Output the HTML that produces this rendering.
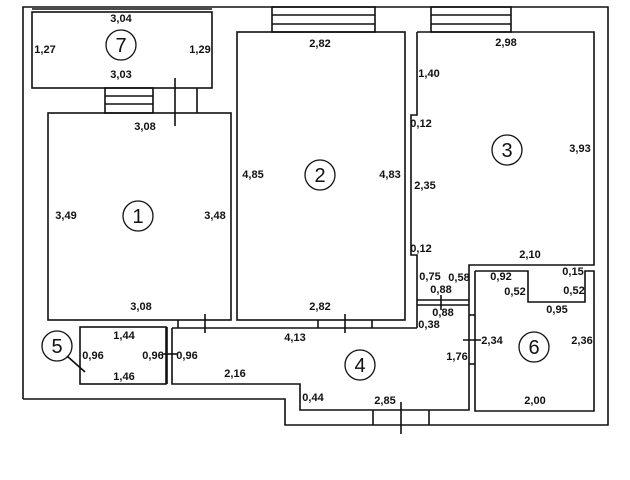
<!DOCTYPE html>
<html><head><style>body{margin:0;background:#fff}svg{display:block}text{font-family:"Liberation Sans Narrow","Liberation Sans",sans-serif;font-size:11px;font-weight:bold;fill:#111;text-anchor:middle;dominant-baseline:central}.c{font-size:20px;font-weight:normal}</style></head><body>
<svg width="630" height="480" viewBox="0 0 630 480" fill="none" stroke="#111" stroke-width="1.6">
<polyline points="23,399 23,7 608,7 608,425 285,425 285,399 23,399"/>
<!-- room 7 -->
<line x1="32" y1="9" x2="212" y2="9"/>
<rect x="32" y="12" width="180" height="76"/>
<rect x="105" y="88" width="48" height="25"/><line x1="105" y1="96" x2="153" y2="96"/><line x1="105" y1="104" x2="153" y2="104"/>
<line x1="197" y1="88" x2="197" y2="113"/><line x1="175" y1="78" x2="175" y2="126"/>
<!-- room 1 -->
<rect x="48" y="113" width="183" height="207"/>
<!-- room 2 -->
<rect x="237" y="32" width="168" height="288"/>
<rect x="272" y="7" width="103" height="25"/><line x1="272" y1="15" x2="375" y2="15"/><line x1="272" y1="24" x2="375" y2="24"/>
<!-- room 3 -->
<rect x="431" y="7" width="80" height="25"/><line x1="431" y1="15" x2="511" y2="15"/><line x1="431" y1="24" x2="511" y2="24"/>
<polyline points="417,32 594,32 594,265 469,265 469,305"/>
<polyline points="417,32 417,115 411,115 411,255 417,255 417,328"/>
<line x1="417" y1="300" x2="469" y2="300"/><line x1="417" y1="305" x2="469" y2="305"/>
<line x1="441" y1="295" x2="441" y2="310"/>
<!-- room 4 -->
<polyline points="172,328 417,328"/>
<polyline points="469,305 469,410 300,410 300,384 172,384 172,328"/>
<line x1="178" y1="320" x2="178" y2="328"/><line x1="205" y1="314" x2="205" y2="333"/>
<line x1="318" y1="320" x2="318" y2="328"/><line x1="345" y1="314" x2="345" y2="333"/><line x1="372" y1="320" x2="372" y2="328"/>
<line x1="373" y1="410" x2="373" y2="425"/><line x1="429" y1="410" x2="429" y2="425"/><line x1="401" y1="402" x2="401" y2="434"/>
<!-- room 5 -->
<rect x="80" y="327" width="86" height="57"/>
<line x1="167" y1="327" x2="167" y2="384"/>
<line x1="162" y1="354" x2="178" y2="354"/>
<line x1="67" y1="356" x2="85" y2="372"/>
<!-- room 6 -->
<polyline points="475,271 528,271 528,302 585,302 585,271 594,271 594,411 475,411 475,271"/>
<line x1="469" y1="315" x2="475" y2="315"/><line x1="469" y1="364" x2="475" y2="364"/>
<line x1="463" y1="340" x2="481" y2="340"/>
<g stroke-width="1.3">
<circle cx="121" cy="45" r="15"/><circle cx="138" cy="216" r="15"/><circle cx="320" cy="175" r="15"/>
<circle cx="507" cy="150" r="15"/><circle cx="360" cy="365" r="15"/><circle cx="534" cy="347" r="15"/><circle cx="57" cy="346" r="15"/>
</g>
<g stroke="none">
<text class="c" x="121" y="46">7</text><text class="c" x="138" y="217">1</text><text class="c" x="320" y="176">2</text>
<text class="c" x="507" y="151">3</text><text class="c" x="360" y="366">4</text><text class="c" x="534" y="348">6</text><text class="c" x="57" y="347">5</text>
<text x="121" y="19">3,04</text><text x="45" y="50">1,27</text><text x="200" y="50">1,29</text><text x="121" y="75">3,03</text>
<text x="145" y="127">3,08</text><text x="66" y="216">3,49</text><text x="215" y="216">3,48</text><text x="141" y="307">3,08</text>
<text x="320" y="44">2,82</text><text x="253" y="175">4,85</text><text x="390" y="175">4,83</text><text x="320" y="307">2,82</text>
<text x="506" y="43">2,98</text><text x="429" y="74">1,40</text><text x="421" y="124">0,12</text><text x="580" y="149">3,93</text>
<text x="425" y="186">2,35</text><text x="421" y="249">0,12</text><text x="530" y="255">2,10</text>
<text x="430" y="277">0,75</text><text x="459" y="278">0,58</text><text x="441" y="290">0,88</text><text x="443" y="313">0,88</text>
<text x="429" y="325">0,38</text><text x="501" y="277">0,92</text><text x="515" y="292">0,52</text><text x="573" y="272">0,15</text>
<text x="574" y="291">0,52</text><text x="557" y="310">0,95</text><text x="492" y="341">2,34</text><text x="457" y="357">1,76</text>
<text x="582" y="341">2,36</text><text x="535" y="401">2,00</text><text x="295" y="338">4,13</text><text x="235" y="374">2,16</text>
<text x="313" y="398">0,44</text><text x="385" y="401">2,85</text><text x="124" y="336">1,44</text><text x="124" y="377">1,46</text>
<text x="93" y="356">0,96</text><text x="153" y="356">0,96</text><text x="187" y="356">0,96</text>
</g>
</svg>
</body></html>
